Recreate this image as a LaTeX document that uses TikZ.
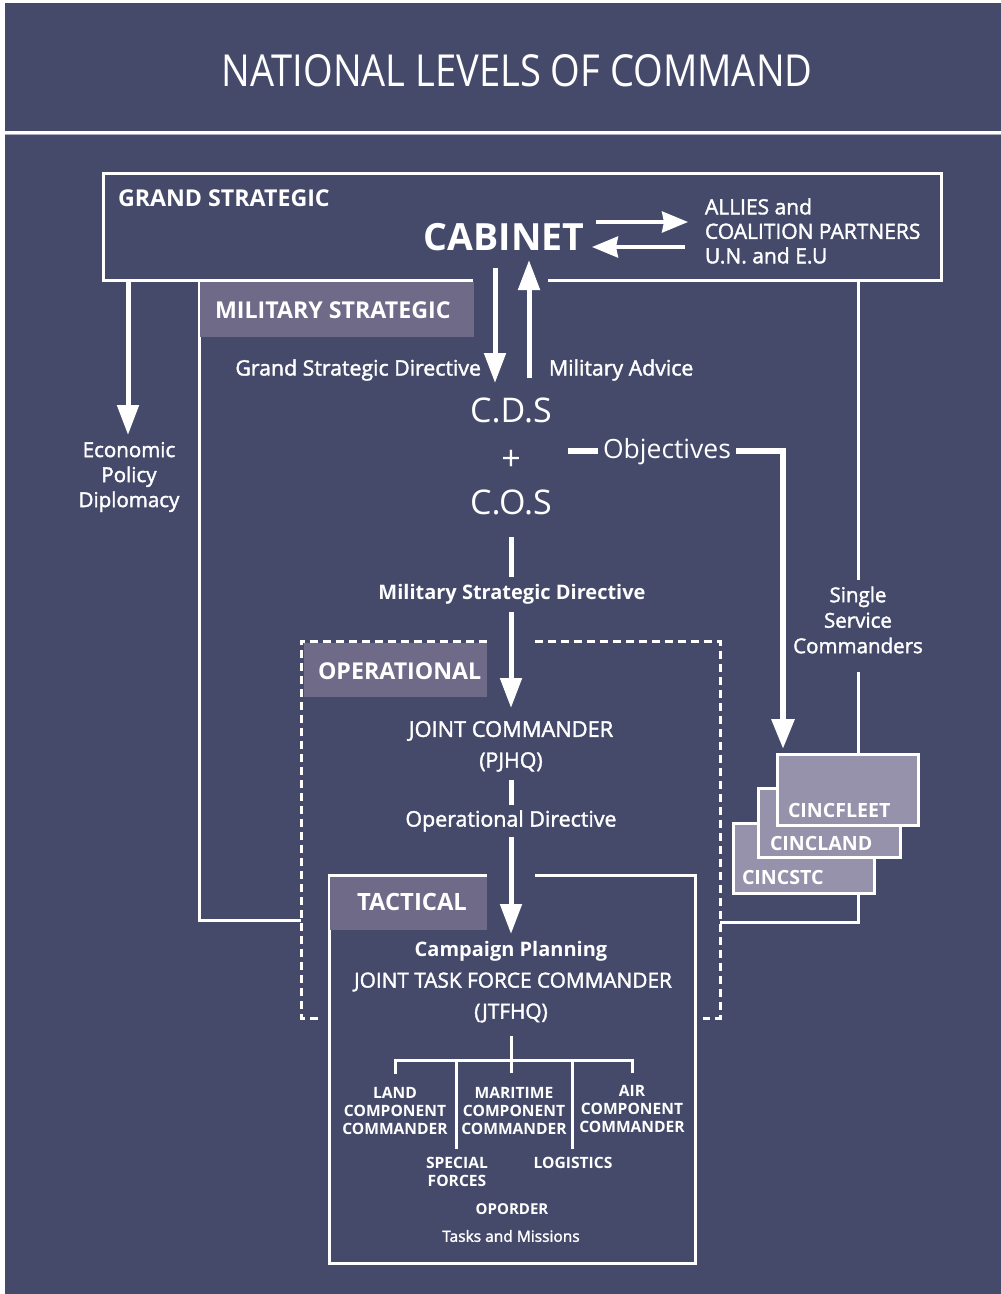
\documentclass[tikz,border=0pt]{standalone}
\usepackage{fontspec}
\setmainfont{Open Sans}
\newfontfamily\medfont[FakeBold=1.8]{Open Sans}
\usetikzlibrary{arrows.meta}
\definecolor{navy}{RGB}{69,74,107}
\definecolor{lab}{RGB}{110,106,136}
\definecolor{cinc}{RGB}{151,146,171}
\definecolor{rule}{RGB}{170,172,190}
\newcommand{\fs}[2]{\fontsize{#1}{#2}\selectfont}
\begin{document}
\begin{tikzpicture}[x=1pt,y=-1pt,
  every node/.style={text=white, inner sep=0pt, outer sep=0pt},
  frame/.style={draw=white, line width=3pt},
  dashframe/.style={draw=white, line width=3pt, dash pattern=on 8pt off 5pt},
  arr/.style={draw=white, line width=5pt, -{Triangle[width=21pt,length=30pt]}},
  thinarr/.style={draw=white, line width=3.5pt, -{Stealth[inset=2pt,width=21pt,length=26pt]}},
  bar/.style={draw=white, line width=5pt},
  objline/.style={draw=white, line width=6pt},
  tree/.style={draw=white, line width=3pt},
  labbox/.style={fill=lab},
  cincbox/.style={fill=cinc, draw=white, line width=3pt},
  head/.style={font=\bfseries\fs{23.2}{26}, anchor=west},
  med/.style={font=\medfont\fs{21.3}{25}},
  medb/.style={font=\bfseries\fs{20}{24}},
  plain/.style={font=\fs{21}{25}},
  big/.style={font=\fs{34}{38}},
  small/.style={font=\bfseries\fs{15.6}{18}, align=center},
  cinclab/.style={font=\bfseries\fs{19.6}{26}, anchor=west}
]
\useasboundingbox (0,0) rectangle (1001,1294);
\fill[white] (0,0) rectangle (1001,1294);
\fill[navy] (5,3) rectangle (1001,1294);
\draw[white, line width=3pt] (5,132) -- (1001,132);
\draw[rule, line width=1.5pt] (5,134.5) -- (1001,134.5);

% title
\node (title) at (517,71) {\resizebox{591pt}{32pt}{\fs{40}{44}NATIONAL LEVELS OF COMMAND}};

% ---- grand strategic frame
\coordinate (gsBL) at (103,280);
\coordinate (gsTL) at (103,173);
\coordinate (gsTR) at (941,173);
\coordinate (gsBR) at (941,280);
\coordinate (gsGapL) at (473,280);
\coordinate (gsGapR) at (548,280);
\draw[frame] (gsGapL) -- (gsBL) -- (gsTL) -- (gsTR) -- (gsBR) -- (gsGapR);
\node[head] (gs) at (118,198) {GRAND STRATEGIC};

% ---- military strategic
\coordinate (msTop) at (199,280);
\coordinate (msCorner) at (199,920);
\coordinate (msEnd) at (301,920);
\draw[frame] (msTop) -- (msCorner) -- (msEnd);
\fill[labbox] (200,282) rectangle (474,337);
\node[head] (ms) at (215,310) {MILITARY STRATEGIC};

% right line (single service)
\coordinate (ssTop) at (858,280);
\coordinate (ssMidA) at (858,580);
\coordinate (ssMidB) at (858,672);
\coordinate (ssCorner) at (858,922);
\coordinate (ssEnd) at (720,922);
\draw[frame] (ssTop) -- (ssMidA);
\draw[frame] (ssMidB) -- (ssCorner) -- (ssEnd);
\node[med, font=\medfont\fs{20.5}{25.5}, align=center] (ss) at (858,620) {Single\\Service\\Commanders};

% economic
\coordinate (ecoTop) at (128,282);
\coordinate (ecoTip) at (128,435);
\draw[arr] (ecoTop) -- (ecoTip);
\node[med, font=\medfont\fs{20.5}{25}, align=center] (eco) at (129,477) {Economic\\Policy\\Diplomacy};

% cabinet
\node[font=\bfseries\fs{37.5}{40}] (cab) at (504,237) {CABINET};
\coordinate (toAllA) at (596,222);
\coordinate (toAllB) at (688,222);
\coordinate (frAllA) at (685,247);
\coordinate (frAllB) at (592,247);
\draw[thinarr] (toAllA) -- (toAllB);
\draw[thinarr] (frAllA) -- (frAllB);
\node[font=\medfont\fs{21}{24.5}, align=left, anchor=west] (allies) at (705,231) {ALLIES and\\COALITION PARTNERS\\U.N. and E.U};

% directives
\coordinate (gsdA) at (495,268);
\coordinate (gsdB) at (495,383);
\coordinate (maA) at (529,378);
\coordinate (maB) at (529,260);
\draw[arr] (gsdA) -- (gsdB);
\draw[arr] (maA) -- (maB);
\node[med, anchor=east] (gsd) at (481,370) {Grand Strategic Directive};
\node[med, anchor=west] (ma) at (549,370) {Military Advice};

\node[big] (cds) at (511,410) {C.D.S};
\node[big] (plus) at (511,460) {+};
\node[big] (cos) at (511,502) {C.O.S};

% objectives
\coordinate (objA) at (568,451);
\coordinate (objB) at (598,451);
\coordinate (objC) at (736,451);
\coordinate (objD) at (783,451);
\coordinate (objTip) at (783,749);
\draw[objline] (objA) -- (objB);
\node[font=\fs{26.5}{30}] (obj) at (667,452) {Objectives};
\draw[objline, -{Triangle[width=22pt,length=30pt]}] (objC) -- (objD) -- (objTip);

% military strategic directive
\coordinate (msdA) at (511,537);
\coordinate (msdB) at (511,577);
\coordinate (msdC) at (511,612);
\coordinate (msdTip) at (511,708);
\draw[bar] (msdA) -- (msdB);
\node[medb] (msd) at (512,594) {Military Strategic Directive};
\draw[arr] (msdC) -- (msdTip);

% operational dashed frame
\draw[dashframe] (318,1018) -- (301,1018) -- (301,641) -- (487,641);
\draw[dashframe] (535,641) -- (720,641) -- (720,1018) -- (703,1018);
\fill[labbox] (304,643) rectangle (487,697);
\node[head] (op) at (318,671) {OPERATIONAL};

\node[med, font=\medfont\fs{21.8}{25}] (jc) at (511,731) {JOINT COMMANDER};
\node[med] (pjhq) at (511,762) {(PJHQ)};
\coordinate (odA) at (511,780);
\coordinate (odB) at (511,805);
\coordinate (odC) at (511,837);
\coordinate (odTip) at (511,934);
\draw[bar] (odA) -- (odB);
\node[med, font=\medfont\fs{21.4}{25}] (od) at (511,821) {Operational Directive};
\draw[arr] (odC) -- (odTip);

% tactical
\draw[frame] (487,875) -- (329,875) -- (329,1263) -- (695,1263) -- (695,875) -- (535,875);
\fill[labbox] (330,877) rectangle (487,930);
\node[head, font=\bfseries\fs{23.8}{26}] (tac) at (357,902) {TACTICAL};

\node[medb] (cp) at (511,951) {Campaign Planning};
\node[med, font=\medfont\fs{20.8}{25}] (jtfc) at (513,982) {JOINT TASK FORCE COMMANDER};
\node[med, font=\medfont\fs{20.8}{25}] (jtfhq) at (511,1013) {(JTFHQ)};

% tree
\coordinate (tStem) at (511,1036);
\coordinate (tMid) at (511,1060);
\coordinate (tMidD) at (511,1073);
\coordinate (tL) at (395,1060);
\coordinate (tLD) at (395,1074);
\coordinate (tR) at (632,1060);
\coordinate (tRD) at (632,1073);
\coordinate (tSF) at (456,1060);
\coordinate (tSFD) at (456,1149);
\coordinate (tLG) at (572,1060);
\coordinate (tLGD) at (572,1149);
\draw[tree] (tStem) -- (tMidD);
\draw[tree] (tLD) -- (tL) -- (tR) -- (tRD);
\draw[tree] (tSF) -- (tSFD);
\draw[tree] (tLG) -- (tLGD);
\node[small] (land) at (395,1111) {LAND\\COMPONENT\\COMMANDER};
\node[small] (mar) at (514,1111) {MARITIME\\COMPONENT\\COMMANDER};
\node[small] (air) at (632,1109) {AIR\\COMPONENT\\COMMANDER};
\node[small] (sf) at (457,1172) {SPECIAL\\FORCES};
\node[small] (log) at (573,1163) {LOGISTICS};
\node[small, font=\bfseries\fs{15}{18}] (opo) at (512,1209) {OPORDER};
\node[font=\medfont\fs{15.5}{18}] (tm) at (511,1236) {Tasks and Missions};

% CINC boxes
\draw[cincbox] (733,823) rectangle (874,893);
\node[cinclab] (stc) at (742,877) {CINCSTC};
\draw[cincbox] (758,788) rectangle (900,857);
\node[cinclab] (land2) at (770,843) {CINCLAND};
\draw[cincbox] (777,754) rectangle (918,825);
\node[cinclab] (fleet) at (788,810) {CINCFLEET};
\end{tikzpicture}
\end{document}
